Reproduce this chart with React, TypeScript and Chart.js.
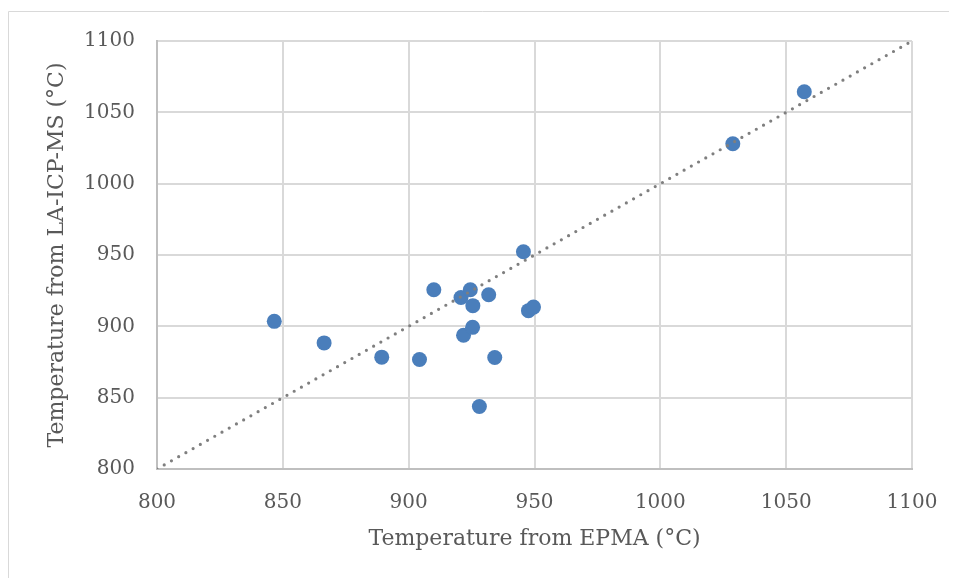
import React, { useEffect, useRef } from "react";
import { Chart, registerables } from "chart.js";

Chart.register(...registerables);

// Temperature from EPMA (°C)
const epmaTemps = [
  846.6, 866.4, 889.3, 904.3, 910.0, 920.8, 924.5, 925.5, 931.8,
  945.6, 921.8, 925.4, 934.2, 928.1, 947.6, 949.6, 1028.8, 1057.2,
];
// Temperature from LA-ICP-MS (°C)
const icpTemps = [
  903.5, 888.4, 878.4, 876.8, 925.6, 920.2, 925.6, 914.5, 922.1,
  952.3, 893.7, 899.3, 878.2, 843.8, 911.0, 913.5, 1028.0, 1064.4,
];
// 1:1 reference line
const refLineX = [800, 1100];
const refLineY = [800, 1100];

const axisMin = 800;
const axisMax = 1100;
const axisStep = 50;

const xTitle = "Temperature from EPMA (°C)";
const yTitle = "Temperature from LA-ICP-MS (°C)";

const textColor = "#595959";
const gridColor = "#d9d9d9";
const axisLineColor = "#bfbfbf";
const pointColor = "#4a7ebb";
const lineColor = "#7f7f7f";

const CANVAS_W = 949;
const CANVAS_H = 570;

const borderPlugin = {
  id: "outerBorder",
  beforeDraw(chart: any) {
    const ctx = chart.ctx;
    ctx.save();
    ctx.strokeStyle = gridColor;
    ctx.lineWidth = 1;
    ctx.beginPath();
    ctx.moveTo(0.5, chart.height);
    ctx.lineTo(0.5, 3.5);
    ctx.lineTo(chart.width, 3.5);
    ctx.stroke();
    ctx.restore();
  },
};

export default function App() {
  const canvasRef = useRef<HTMLCanvasElement | null>(null);

  useEffect(() => {
    document.documentElement.style.overflow = "hidden";
    if (!canvasRef.current) return;
    const scatterData = epmaTemps.map((x, i) => ({ x, y: icpTemps[i] }));
    const lineData = refLineX.map((x, i) => ({ x, y: refLineY[i] }));
    const tickFont = { family: "DejaVu Serif", size: 20 };
    const titleFont = { family: "DejaVu Serif", size: 22 };
    const fmt = (v: any) => String(v);

    const chart = new Chart(canvasRef.current, {
      type: "scatter",
      data: {
        datasets: [
          {
            label: "1:1",
            data: lineData,
            showLine: true,
            borderColor: lineColor,
            borderWidth: 3.2,
            borderDash: [0, 8.3],
            borderCapStyle: "round",
            pointRadius: 0,
            pointHoverRadius: 0,
            order: 0,
          } as any,
          {
            label: "Samples",
            data: scatterData,
            backgroundColor: pointColor,
            borderColor: pointColor,
            borderWidth: 0,
            pointRadius: 7.5,
            pointHoverRadius: 7.5,
            order: 1,
          },
        ],
      },
      options: {
        animation: false,
        responsive: false,
        devicePixelRatio: 1,
        layout: { padding: { left: 36, top: 33, right: 45, bottom: 26 } },
        plugins: {
          legend: { display: false },
          tooltip: { enabled: false },
        },
        scales: {
          x: {
            type: "linear",
            min: axisMin,
            max: axisMax,
            ticks: {
              stepSize: axisStep,
              color: textColor,
              font: tickFont,
              padding: 22,
              callback: fmt,
            },
            grid: { color: gridColor, lineWidth: 2, drawTicks: false },
            border: { color: axisLineColor, width: 2 },
            title: {
              display: true,
              text: xTitle,
              color: textColor,
              font: titleFont,
              padding: 0,
            },
            afterFit(scale: any) {
              scale.height = 83;
              scale.paddingLeft = 0;
              scale.paddingRight = 0;
            },
          },
          y: {
            type: "linear",
            min: axisMin,
            max: axisMax,
            ticks: {
              stepSize: axisStep,
              color: textColor,
              font: tickFont,
              padding: 22,
              callback: fmt,
            },
            grid: { color: gridColor, lineWidth: 2, drawTicks: false },
            border: { color: axisLineColor, width: 2 },
            title: {
              display: true,
              text: yTitle,
              color: textColor,
              font: titleFont,
              padding: 0,
            },
            afterFit(scale: any) {
              scale.width = 113;
              scale.paddingTop = 0;
              scale.paddingBottom = 0;
            },
          },
        },
      },
      plugins: [borderPlugin],
    });
    return () => chart.destroy();
  }, []);

  return (
    <div style={{ width: 970, height: 600 }}>
      <canvas
        ref={canvasRef}
        width={CANVAS_W}
        height={CANVAS_H}
        style={{ display: "block", width: CANVAS_W, height: CANVAS_H }}
      />
    </div>
  );
}
